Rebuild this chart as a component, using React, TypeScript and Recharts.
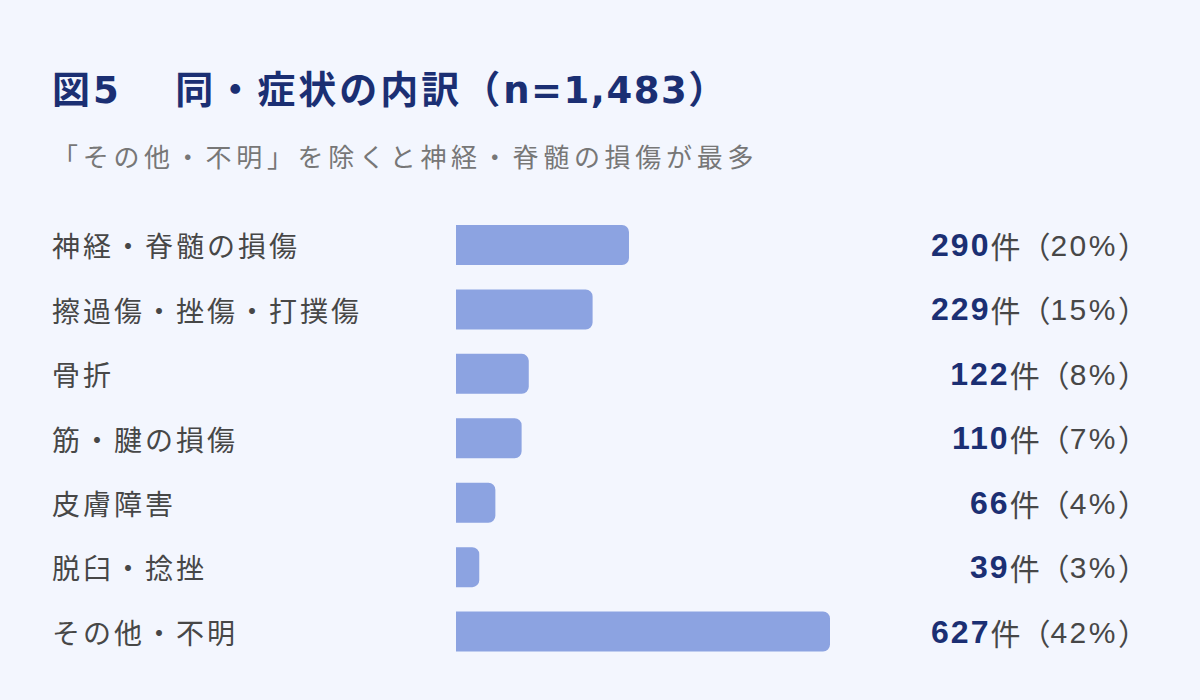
import { Bar, BarChart, LabelList, XAxis, YAxis } from 'recharts';

const categories = ['神経・脊髄の損傷', '擦過傷・挫傷・打撲傷', '骨折', '筋・腱の損傷', '皮膚障害', '脱臼・捻挫', 'その他・不明'];
const counts = [290, 229, 122, 110, 66, 39, 627];
const percents = [20, 15, 8, 7, 4, 3, 42];

const data = categories.map((name, i) => ({ name, count: counts[i], pct: percents[i] }));

const CJK = '"Noto Sans CJK JP", sans-serif';
const LATIN = '"Liberation Sans", "Noto Sans CJK JP", sans-serif';
const WIDE = '"DejaVu Sans", "Noto Sans CJK JP", sans-serif';

function CategoryTick({ y, payload }: any) {
  return (
    <text x={52} y={y} textAnchor="start" dominantBaseline="central" fontSize={28} style={{ letterSpacing: 3 }} fill="#474747" fontFamily={CJK}>
      {payload.value}
    </text>
  );
}

function ValueLabel({ y, height, index }: any) {
  const row = data[index];
  return (
    <text x={1148} y={y + height / 2} textAnchor="end" dominantBaseline="central">
      <tspan fill="#1b2f73" fontWeight={700} fontSize={32} fontFamily={LATIN} style={{ letterSpacing: 2 }}>{row.count}</tspan>
      <tspan fill="#474747" fontSize={30} fontFamily={CJK}>件（</tspan>
      <tspan fill="#474747" fontSize={30} fontFamily={LATIN} style={{ letterSpacing: 2.5 }}>{row.pct}%</tspan>
      <tspan fill="#474747" fontSize={30} fontFamily={CJK}>）</tspan>
    </text>
  );
}

export default function App() {
  const latin = { fontFamily: WIDE, fontSize: 37, letterSpacing: 1.5 };
  return (
    <div style={{ position: 'relative', width: 1200, height: 700, background: '#f3f6fe', fontFamily: CJK }}>
      <style>{'body{margin:0}'}</style>
      <div style={{ position: 'absolute', left: 52, top: 68, fontSize: 38, fontWeight: 700, color: '#1b2f73', lineHeight: 1, letterSpacing: 3, whiteSpace: 'nowrap' }}>
        図<span style={latin}>5</span>
        <span style={{ marginLeft: 55 }}>同・症状の内訳（</span>
        <span style={latin}>n=1,483</span>）
      </div>
      <div style={{ position: 'absolute', left: 52, top: 143, fontSize: 26, color: '#777', lineHeight: 1, letterSpacing: 4.7, whiteSpace: 'nowrap' }}>
        「その他・不明」を除くと神経・脊髄の損傷が最多
      </div>
      <div style={{ position: 'absolute', left: 0, top: 0 }}>
        <BarChart width={1200} height={700} data={data} layout="vertical" margin={{ top: 213, right: 370, bottom: 36, left: 0 }}>
          <XAxis type="number" hide domain={[0, 627]} />
          <YAxis type="category" dataKey="name" width={456} axisLine={false} tickLine={false} tick={<CategoryTick />} interval={0} />
          <Bar dataKey="count" fill="#8ca3e1" barSize={40} radius={[0, 7, 7, 0]} isAnimationActive={false}>
            <LabelList dataKey="count" content={<ValueLabel />} />
          </Bar>
        </BarChart>
      </div>
    </div>
  );
}
